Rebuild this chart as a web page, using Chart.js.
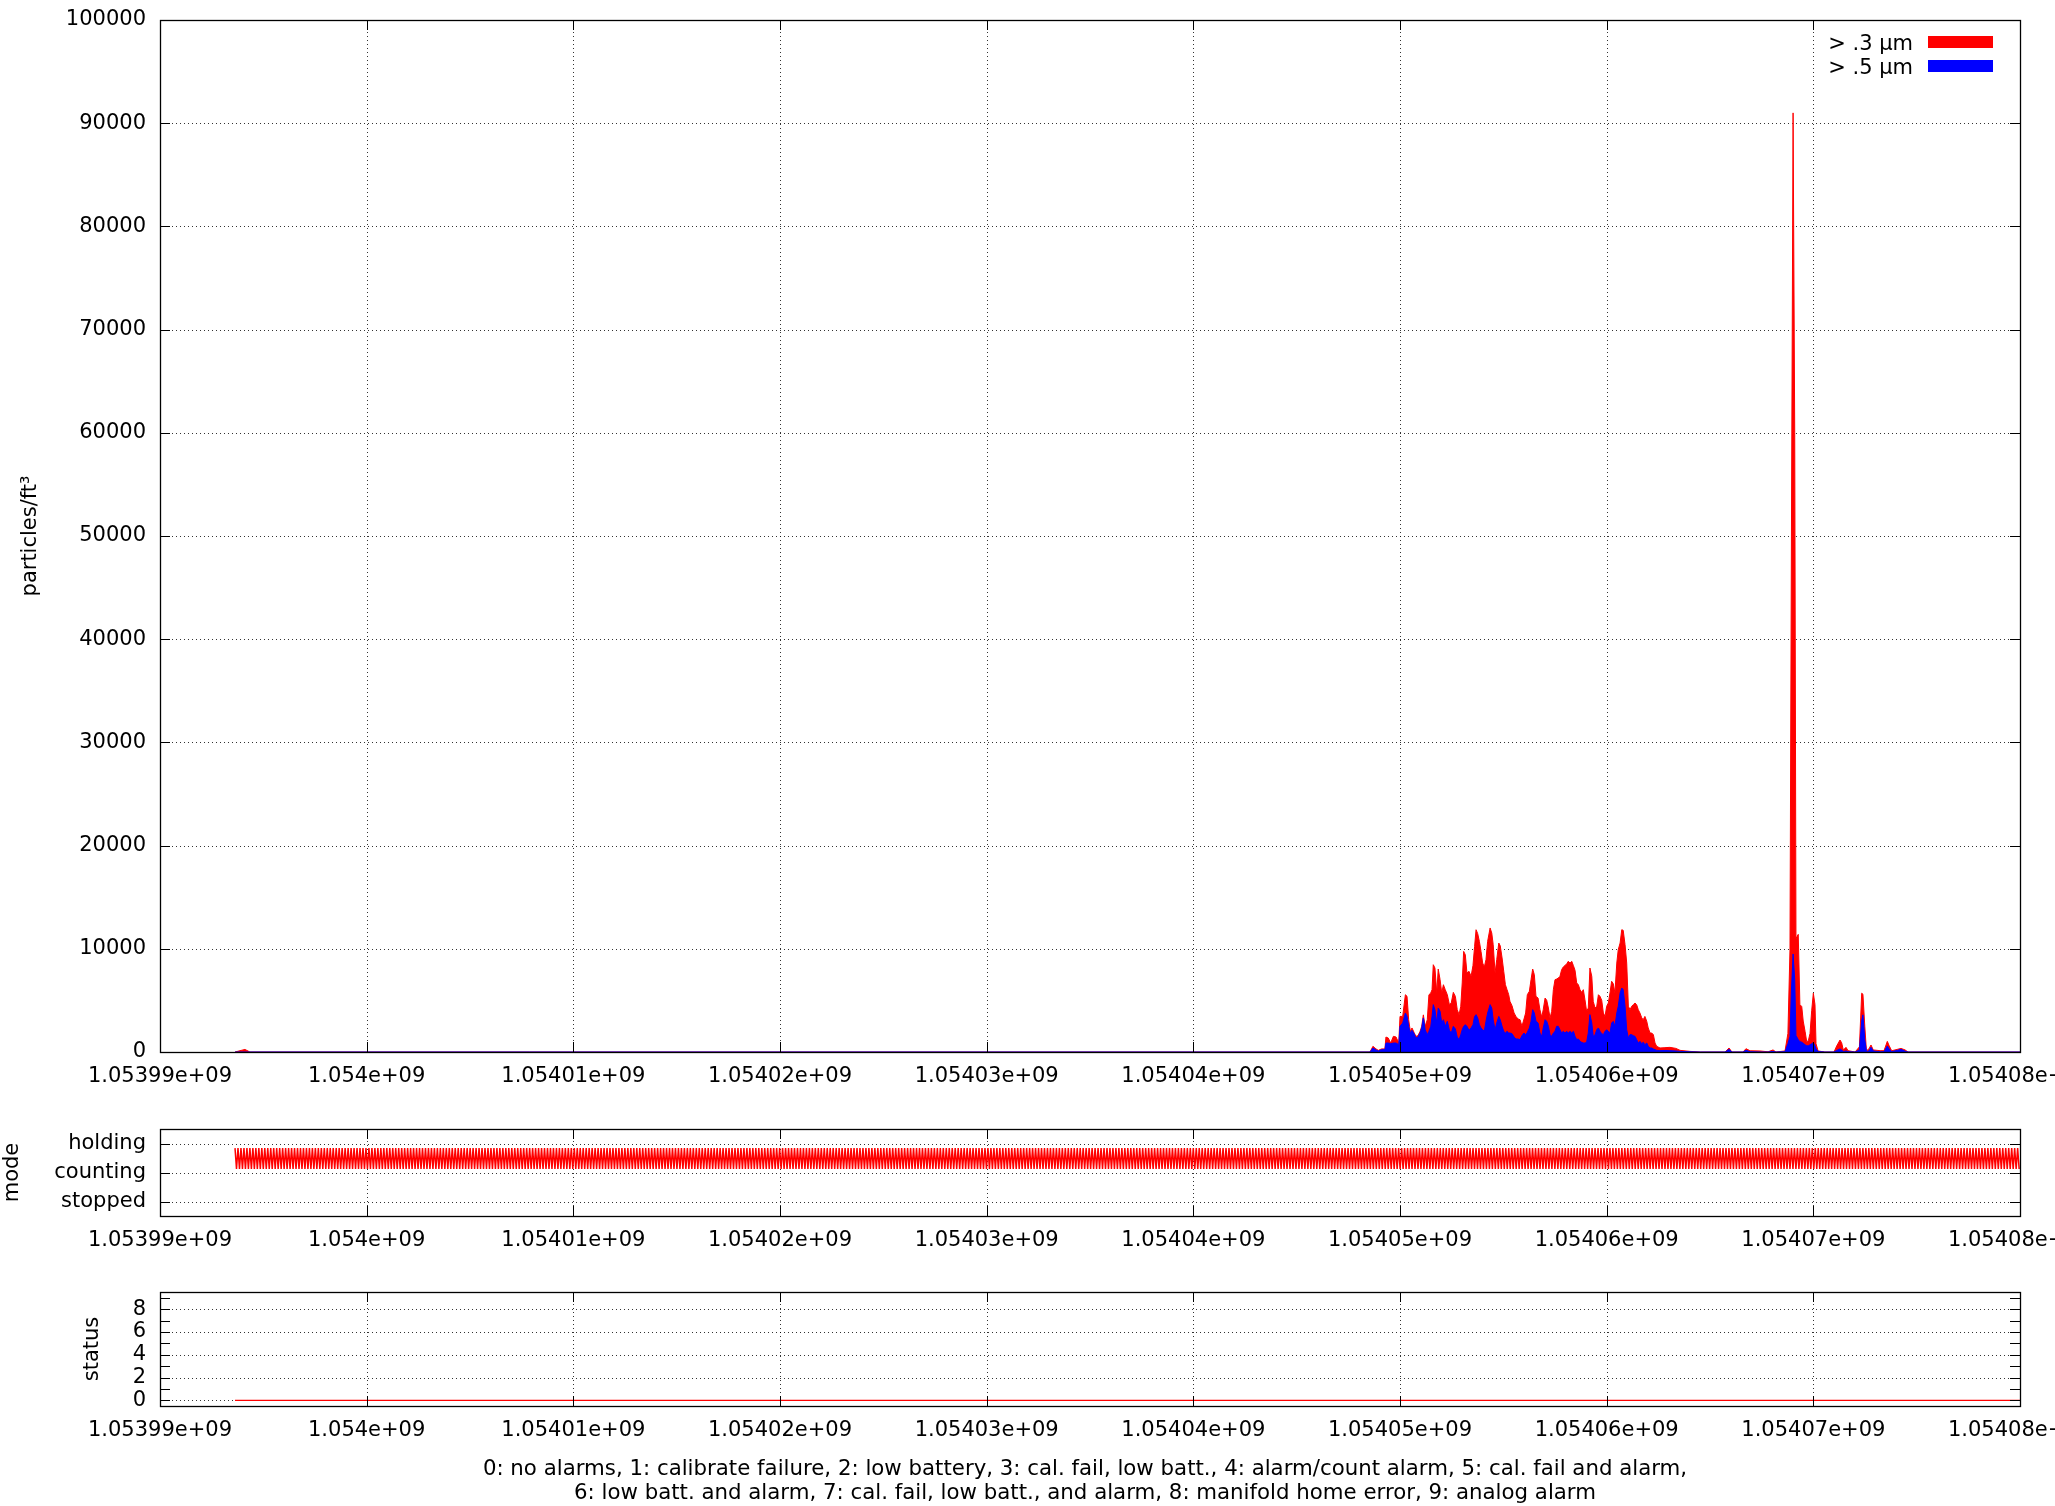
<!DOCTYPE html>
<html><head><meta charset="utf-8">
<script src="https://cdn.jsdelivr.net/npm/chart.js@4.4.1/dist/chart.umd.min.js"></script>
<style>
html,body{margin:0;padding:0;background:#fff;width:2055px;height:1506px;overflow:hidden;font-family:"DejaVu Sans",sans-serif;color:#000;}
.wrap{position:absolute;left:0;width:2150px;}
.lg{position:absolute;left:1700px;width:213px;text-align:right;font-size:21px;line-height:24px;white-space:pre;}
.sw{position:absolute;left:1928px;width:65px;height:12px;}
#note{position:absolute;left:150px;width:1870px;top:1456px;text-align:center;font-size:21.3px;line-height:24px;}
</style></head><body>
<div class="wrap" style="top:0;height:1110px"><canvas id="c1" width="2150" height="1110"></canvas></div>
<div class="wrap" style="top:1100px;height:174px"><canvas id="c2" width="2150" height="174"></canvas></div>
<div class="wrap" style="top:1270px;height:194px"><canvas id="c3" width="2150" height="194"></canvas></div>
<div class="lg" style="top:31px">&gt; .3 µm</div>
<div class="sw" style="top:36px;background:#ff0000"></div>
<div class="lg" style="top:55px">&gt; .5 µm</div>
<div class="sw" style="top:60px;background:#0000ff"></div>
<div id="note">0: no alarms, 1: calibrate failure, 2: low battery, 3: cal. fail, low batt., 4: alarm/count alarm, 5: cal. fail and alarm,<br>6: low batt. and alarm, 7: cal. fail, low batt., and alarm, 8: manifold home error, 9: analog alarm</div>
<script>
// ---- data ----
const T0 = 1053990000; // epoch seconds, time offsets below are relative to this
const xTickValues = [1053990000,1054000000,1054010000,1054020000,1054030000,1054040000,1054050000,1054060000,1054070000,1054080000];
const xTickLabels = ['1.05399e+09','1.054e+09','1.05401e+09','1.05402e+09','1.05403e+09','1.05404e+09','1.05405e+09','1.05406e+09','1.05407e+09','1.05408e+09'];
const yTickValues = [0,10000,20000,30000,40000,50000,60000,70000,80000,90000,100000];
const yTickLabels = ['0','10000','20000','30000','40000','50000','60000','70000','80000','90000','100000'];
const modeTickValues = [0,1,2];
const modeTickLabels = ['stopped','counting','holding'];
const statusTickValues = [0,1,2,3,4,5,6,7,8,9];
const statusTickLabels = ['0','','2','','4','','6','','8',''];

const pTime = [3630,4110,4350,58550,58690,58840,58950,59110,59270,59320,59430,59550,59680,59810,59940,
60000,60130,60260,60340,60420,60500,60580,60680,60770,60870,60970,61050,61130,61220,61320,61400,61490,61550,61610,61690,61780,61850,61940,
62020,62100,62190,62290,62390,62480,62580,62680,62770,62860,62940,63010,63080,63160,63240,63340,63440,63530,63610,63680,63760,63840,63920,
64000,64080,64160,64240,64360,64440,64510,64600,64680,64780,64850,64940,65020,65100,65180,65260,65320,65420,65520,65610,65710,65810,65900,
66000,66080,66160,66260,66340,66420,66500,66580,66680,66770,66860,66930,67020,67100,67180,67260,67340,67420,67500,67580,67660,67740,67820,67900,67980,
68070,68140,68230,68310,68390,68470,68550,68630,68710,68790,68870,68950,69030,69110,69190,69280,69350,69440,69520,69600,69680,69760,69840,69920,
70000,70080,70160,70240,70320,70400,70490,70560,70650,70730,70800,70890,70970,71050,71130,71210,71290,71370,71450,71530,71610,71700,71770,71850,71940,
72010,72100,72180,72260,72340,72420,72580,72820,73060,73350,73550,74030,74520,75730,75920,76060,76600,76740,76940,77420,77810,78050,78190,
78630,78770,78870,78940,79020,79100,79160,79270,79350,79440,79510,79600,79680,79760,79840,79920,80000,80080,80130,80230,80560,
81000,81130,81290,81370,81450,81580,81680,82020,82230,82340,82400,82490,82570,82690,82790,82900,83230,83420,83580,83660,83790,84050,84240,84440,84580,90000];
const pRed = [0,250,0,0,550,300,160,300,300,1450,1360,870,1520,1450,870,
3450,3450,5550,5400,3130,2000,2330,1900,1520,1580,2000,2490,3600,2490,3130,5550,5720,6040,8460,8140,5720,8040,7010,
5720,6520,6040,5550,4590,4750,5780,5390,4100,3620,4430,6690,9750,9430,7650,7820,7330,8370,10240,11850,11470,10720,9750,
8620,8240,8950,10720,12020,11530,10400,7650,8950,10560,10300,9110,7820,6520,6040,5550,4910,4490,3780,3450,3200,3130,2490,
3200,3780,5550,5880,7010,8040,7490,5390,5230,4100,3390,4100,5230,5010,4260,3300,3940,6040,7010,7070,7170,7330,7980,8240,8370,
8560,8790,8620,8790,8370,7910,6690,6520,6040,5780,6040,5070,3940,4260,8140,7330,4910,4260,4430,5550,5390,5010,3780,3450,
4430,4750,5720,6850,6620,5720,8620,9920,10560,11850,11790,10400,8620,4430,4100,4430,4590,4750,4590,4100,3780,3300,3130,3450,2970,
2330,1840,1840,1680,870,550,390,420,450,350,160,60,0,0,390,0,0,320,120,100,20,200,0,
100,1800,9900,50000,91000,60000,11000,11400,4600,4400,3000,2000,1000,1100,1800,4000,5700,4600,800,100,0,
0,580,1160,900,190,450,130,0,500,5700,5600,2500,130,300,680,200,130,130,1030,650,120,250,350,200,0,0];
const pBlue = [0,0,0,0,390,200,100,230,230,870,870,800,870,870,710,
2490,2800,3780,3450,2490,1840,2100,1780,1360,1450,1840,2330,3300,2160,1680,2000,2490,3450,4590,4100,2810,4260,3940,
2810,3130,2490,2970,2100,1840,2490,2230,1450,1200,1680,2160,2490,2650,2490,2100,2330,2650,3450,3620,3300,2650,2330,
2160,2000,2970,3780,4590,4260,3130,2160,2810,3450,3130,2490,2000,1840,2000,1840,1840,1780,1450,1260,1260,1200,1580,
1840,1680,1900,2330,2970,4100,3780,2970,2810,1840,1520,2330,3130,2970,2490,1680,1520,1840,2000,2490,2490,2160,1840,2000,1840,
2000,1840,2000,1840,2000,1520,1200,1260,1030,940,870,870,940,1840,3620,2810,1520,1680,2160,2330,2000,1780,1680,2000,
2160,2000,1840,2810,2970,2490,3780,4430,5720,6200,6040,4430,2160,1360,1680,1680,1580,1520,1200,870,1030,810,940,710,870,
550,390,390,290,230,160,130,150,130,100,60,20,0,0,250,0,0,160,30,0,0,60,0,
30,800,1500,6000,9500,7000,1600,1200,1000,950,850,700,600,600,700,800,900,600,300,40,0,
0,150,300,200,30,100,30,0,200,3000,3600,1200,50,100,450,100,20,30,580,320,40,150,260,80,0,0];

// instrument mode, one code per sample (H = holding phase level, C = counting phase level)
const modeStart = 3630, modeStep = 72; // seconds
const modeLevel = {H: 1.84, C: 1.12};
const modeSeq = [
'HCHCHCHCHCHCHCHCHCHCHCHCHCHCHCHCHCHCHCHCHCHCHCHCHCHCHCHCHCHCHCHCHCHCHCHCHCHCHCHCHCHCHCHCHCHCHCHCHCHC',
'HCHCHCHCHCHCHCHCHCHCHCHCHCHCHCHCHCHCHCHCHCHCHCHCHCHCHCHCHCHCHCHCHCHCHCHCHCHCHCHCHCHCHCHCHCHCHCHCHCHC',
'HCHCHCHCHCHCHCHCHCHCHCHCHCHCHCHCHCHCHCHCHCHCHCHCHCHCHCHCHCHCHCHCHCHCHCHCHCHCHCHCHCHCHCHCHCHCHCHCHCHC',
'HCHCHCHCHCHCHCHCHCHCHCHCHCHCHCHCHCHCHCHCHCHCHCHCHCHCHCHCHCHCHCHCHCHCHCHCHCHCHCHCHCHCHCHCHCHCHCHCHCHC',
'HCHCHCHCHCHCHCHCHCHCHCHCHCHCHCHCHCHCHCHCHCHCHCHCHCHCHCHCHCHCHCHCHCHCHCHCHCHCHCHCHCHCHCHCHCHCHCHCHCHC',
'HCHCHCHCHCHCHCHCHCHCHCHCHCHCHCHCHCHCHCHCHCHCHCHCHCHCHCHCHCHCHCHCHCHCHCHCHCHCHCHCHCHCHCHCHCHCHCHCHCHC',
'HCHCHCHCHCHCHCHCHCHCHCHCHCHCHCHCHCHCHCHCHCHCHCHCHCHCHCHCHCHCHCHCHCHCHCHCHCHCHCHCHCHCHCHCHCHCHCHCHCHC',
'HCHCHCHCHCHCHCHCHCHCHCHCHCHCHCHCHCHCHCHCHCHCHCHCHCHCHCHCHCHCHCHCHCHCHCHCHCHCHCHCHCHCHCHCHCHCHCHCHCHC',
'HCHCHCHCHCHCHCHCHCHCHCHCHCHCHCHCHCHCHCHCHCHCHCHCHCHCHCHCHCHCHCHCHCHCHCHCHCHCHCHCHCHCHCHCHCHCHCHCHCHC',
'HCHCHCHCHCHCHCHCHCHCHCHCHCHCHCHCHCHCHCHCHCHCHCHCHCHCHCHCHCHCHCHCHCHCHCHCHCHCHCHCHCHCHCHCHCHCHCHCHCHC',
'HCHCHCHCHCHCHCHCHCHCHCHCHCHCHCHCHCHCHCHCHCHCHCHCHCHCHCHCHCHCHCHCHCHCHCHCHCHCHCHCHCHCHCHCHCHCHCHCHCHC',
'HCHCHCHCHCHCHCHCHCHCHCHCHCHCHCHCHCHCHCHCHCHCHCHCHCHCHCHCHCHCHCHCHCHCHCHCHCHCHCHCHCHCHCHCHCHCHCHCHCHC'
].join('');

const statusTime = [3630, 90000];
const statusValue = [0, 0];

// ---- drawing ----
const FONT = {family: 'DejaVu Sans', size: 21};
const XMIN = 1053990000, XMAX = 1054080000;

const gnuFrame = {
  id: 'gnuFrame',
  beforeDatasetsDraw(chart) {
    const {ctx, chartArea: a, scales: {x, y}} = chart;
    ctx.save();
    ctx.strokeStyle = 'rgba(0,0,0,0.8)';
    ctx.lineWidth = 1;
    ctx.setLineDash([1, 3]);
    ctx.beginPath();
    x.ticks.forEach(t => {
      const px = Math.round(x.getPixelForValue(t.value)) + 0.5;
      if (px < a.left + 2 || px > a.right - 2) return;
      ctx.moveTo(px, a.top); ctx.lineTo(px, a.bottom);
    });
    y.ticks.forEach((t, i) => {
      if (y.ticks[i].label === '') return;
      const py = Math.round(y.getPixelForValue(t.value)) + 0.5;
      if (py < a.top + 2 || py > a.bottom - 2) return;
      ctx.moveTo(a.left, py); ctx.lineTo(a.right, py);
    });
    ctx.stroke();
    ctx.restore();
  },
  afterDatasetsDraw(chart) {
    const {ctx, chartArea: a, scales: {x, y}} = chart;
    ctx.save();
    ctx.strokeStyle = '#000';
    ctx.lineWidth = 1;
    ctx.beginPath();
    x.ticks.forEach(t => {
      const px = Math.round(x.getPixelForValue(t.value)) + 0.5;
      ctx.moveTo(px, a.bottom); ctx.lineTo(px, a.bottom - 10);
      ctx.moveTo(px, a.top); ctx.lineTo(px, a.top + 10);
    });
    y.ticks.forEach(t => {
      const py = Math.round(y.getPixelForValue(t.value)) + 0.5;
      ctx.moveTo(a.left, py); ctx.lineTo(a.left + 10, py);
      ctx.moveTo(a.right, py); ctx.lineTo(a.right - 10, py);
    });
    ctx.stroke();
    ctx.lineWidth = 1.3;
    ctx.strokeRect(Math.round(a.left) + 0.5, Math.round(a.top) + 0.5, Math.round(a.right - a.left), Math.round(a.bottom - a.top));
    ctx.restore();
  }
};

function xScale() {
  return {
    type: 'linear', min: XMIN, max: XMAX,
    afterBuildTicks: s => { s.ticks = xTickValues.map(v => ({value: v})); },
    ticks: {callback: (v, i) => xTickLabels[i], autoSkip: false, maxRotation: 0, minRotation: 0, padding: 12, font: FONT, color: '#000'},
    grid: {display: false, drawTicks: false}, border: {display: false},
    afterFit: s => { s.height = 58; s.paddingLeft = 0; s.paddingRight = 0; }
  };
}
function yScale(min, max, vals, labels, title, titlePad) {
  return {
    type: 'linear', min: min, max: max,
    afterBuildTicks: s => { s.ticks = vals.map(v => ({value: v})); },
    ticks: {callback: (v, i) => labels[i], autoSkip: false, padding: 14, font: FONT, color: '#000'},
    title: {display: true, text: title, font: FONT, color: '#000', padding: {top: titlePad, bottom: 0}},
    grid: {display: false, drawTicks: false}, border: {display: false},
    afterFit: s => { s.width = 160; s.paddingTop = 0; s.paddingBottom = 0; }
  };
}
function baseOpts(padTop, yS) {
  return {
    responsive: false, animation: false, devicePixelRatio: 1,
    layout: {padding: {top: padTop, right: 130, left: 0, bottom: 0}},
    plugins: {legend: {display: false}, tooltip: {enabled: false}},
    elements: {point: {radius: 0}, line: {tension: 0}},
    scales: {x: xScale(), y: yS}
  };
}

new Chart(document.getElementById('c1'), {
  type: 'line',
  data: {datasets: [
    {label: '> .3 µm', data: pTime.map((t, i) => ({x: T0 + t, y: pRed[i]})),
     borderColor: '#ff0000', backgroundColor: '#ff0000', borderWidth: 1, fill: 'origin', order: 2},
    {label: '> .5 µm', data: pTime.map((t, i) => ({x: T0 + t, y: pBlue[i]})),
     borderColor: '#0000ff', backgroundColor: '#0000ff', borderWidth: 1, fill: 'origin', order: 1}
  ]},
  options: baseOpts(20, yScale(0, 100000, yTickValues, yTickLabels, 'particles/ft³', 18)),
  plugins: [gnuFrame]
});

new Chart(document.getElementById('c2'), {
  type: 'line',
  data: {datasets: [
    {label: 'mode', data: modeSeq.split('').map((c, i) => ({x: T0 + modeStart + i * modeStep, y: modeLevel[c]})),
     borderColor: '#ff0000', borderWidth: 1.5, fill: false}
  ]},
  options: baseOpts(29, yScale(-0.5, 2.5, modeTickValues, modeTickLabels, 'mode', 0)),
  plugins: [gnuFrame]
});

new Chart(document.getElementById('c3'), {
  type: 'line',
  data: {datasets: [
    {label: 'status', data: statusTime.map((t, i) => ({x: T0 + t, y: statusValue[i]})),
     borderColor: '#ff0000', borderWidth: 1.2, fill: false}
  ]},
  options: baseOpts(22, yScale(-0.5, 9.5, statusTickValues, statusTickLabels, 'status', 80)),
  plugins: [gnuFrame]
});
</script>
</body></html>
